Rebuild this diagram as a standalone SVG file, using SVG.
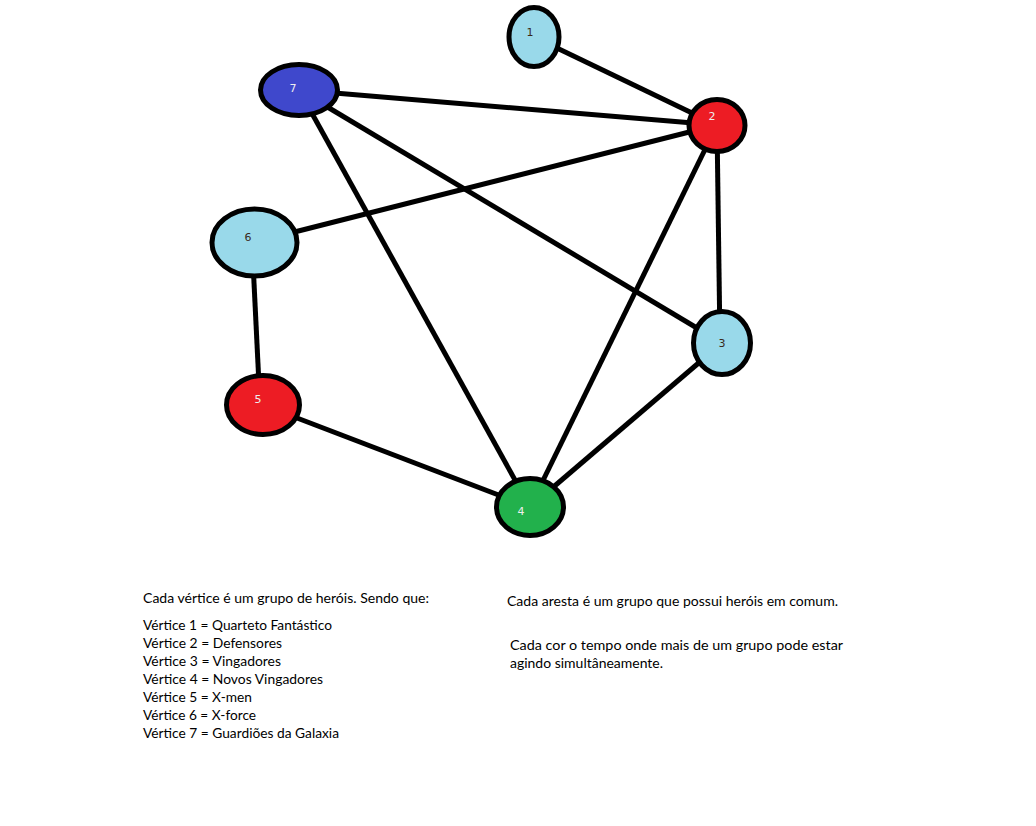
<svg xmlns="http://www.w3.org/2000/svg" width="1036" height="826" viewBox="0 0 1036 826">
  <style>
    .node { stroke: #000; stroke-width: 5; }
    .lb { fill: #99d9ea; }
    .red { fill: #ed1c24; }
    .blue { fill: #3f48cc; }
    .green { fill: #22b14c; }
    .num { font-family: "DejaVu Sans", sans-serif; font-size: 11px; text-anchor: middle; }
    .dark { fill: #3a2a1a; }
    .light { fill: #eeeeee; }
    .edge { stroke: #000; stroke-width: 5; fill: none; }
    .note { font-family: Lato, "Open Sans", sans-serif; font-size: 14px; fill: #000; }
  </style>
  <rect width="1036" height="826" fill="#fff"/>

  <!-- edges -->
  <g id="edges">
    <line class="edge" x1="534" y1="37" x2="717" y2="125"/>
    <line class="edge" x1="299" y1="90" x2="717" y2="125"/>
    <line class="edge" x1="299" y1="90" x2="722" y2="343"/>
    <line class="edge" x1="299" y1="90" x2="530" y2="507"/>
    <line class="edge" x1="255" y1="242" x2="717" y2="125"/>
    <line class="edge" x1="252" y1="242" x2="260" y2="405"/>
    <line class="edge" x1="263" y1="405" x2="530" y2="507"/>
    <line class="edge" x1="717" y1="125" x2="530" y2="507"/>
    <line class="edge" x1="717" y1="125" x2="720" y2="343"/>
    <line class="edge" x1="722" y1="343" x2="530" y2="507"/>
  </g>

  <!-- vertices -->
  <g id="node1">
    <ellipse class="node lb" cx="534" cy="37" rx="25" ry="29.5"/>
    <text class="num dark" x="530" y="36">1</text>
  </g>
  <g id="node2">
    <ellipse class="node red" cx="717" cy="125.5" rx="28" ry="26"/>
    <text class="num light" x="712" y="120">2</text>
  </g>
  <g id="node3">
    <ellipse class="node lb" cx="722" cy="343" rx="28.5" ry="31.5"/>
    <text class="num dark" x="722" y="347">3</text>
  </g>
  <g id="node4">
    <ellipse class="node green" cx="530" cy="507" rx="33.5" ry="28.5"/>
    <text class="num light" x="521" y="515">4</text>
  </g>
  <g id="node5">
    <ellipse class="node red" cx="263" cy="405" rx="36.5" ry="29.5"/>
    <text class="num light" x="258" y="403">5</text>
  </g>
  <g id="node6">
    <ellipse class="node lb" cx="254.5" cy="242.5" rx="42.5" ry="33.5"/>
    <text class="num dark" x="248" y="241">6</text>
  </g>
  <g id="node7">
    <ellipse class="node blue" cx="299" cy="90" rx="38.5" ry="25.5"/>
    <text class="num light" x="293" y="92">7</text>
  </g>

  <!-- legend -->
  <g id="legend">
    <text class="note" x="143" y="603" textLength="286" lengthAdjust="spacingAndGlyphs">Cada vértice é um grupo de heróis. Sendo que:</text>
    <text class="note" x="143" y="630" textLength="189" lengthAdjust="spacingAndGlyphs">Vértice 1 = Quarteto Fantástico</text>
    <text class="note" x="143" y="648" textLength="139" lengthAdjust="spacingAndGlyphs">Vértice 2 = Defensores</text>
    <text class="note" x="143" y="666" textLength="138" lengthAdjust="spacingAndGlyphs">Vértice 3 = Vingadores</text>
    <text class="note" x="143" y="684" textLength="180" lengthAdjust="spacingAndGlyphs">Vértice 4 = Novos Vingadores</text>
    <text class="note" x="143" y="702" textLength="109" lengthAdjust="spacingAndGlyphs">Vértice 5 = X-men</text>
    <text class="note" x="143" y="720" textLength="113" lengthAdjust="spacingAndGlyphs">Vértice 6 = X-force</text>
    <text class="note" x="143" y="738" textLength="196" lengthAdjust="spacingAndGlyphs">Vértice 7 = Guardiões da Galaxia</text>
  </g>
  <g id="notes">
    <text class="note" x="507" y="606" textLength="331" lengthAdjust="spacingAndGlyphs">Cada aresta é um grupo que possui heróis em comum.</text>
    <text class="note" x="510" y="650" textLength="333" lengthAdjust="spacingAndGlyphs">Cada cor o tempo onde mais de um grupo pode estar</text>
    <text class="note" x="510" y="668" textLength="153" lengthAdjust="spacingAndGlyphs">agindo simultâneamente.</text>
  </g>
</svg>
